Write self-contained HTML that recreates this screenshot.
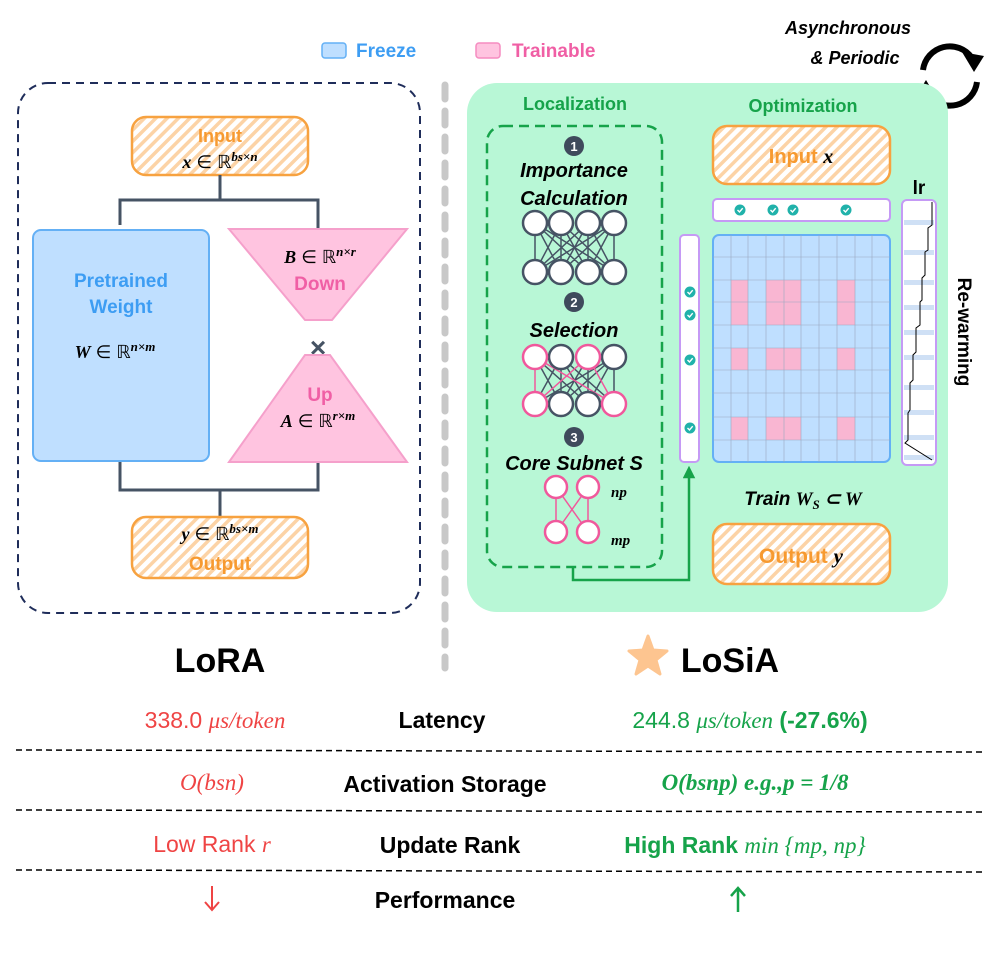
<!DOCTYPE html>
<html><head><meta charset="utf-8"><style>
body{margin:0;background:#fff}
svg{display:block}
text{font-family:"Liberation Sans",sans-serif}
.b{font-weight:bold}
.m{font-family:"Liberation Serif",serif;font-style:italic}
</style></head><body>
<svg width="996" height="955" viewBox="0 0 996 955" xmlns="http://www.w3.org/2000/svg">
<defs>
<pattern id="h" width="8" height="8" patternUnits="userSpaceOnUse" patternTransform="rotate(45)">
<rect width="8" height="8" fill="#fff"/><rect width="3.5" height="8" fill="#fcd3a6"/>
</pattern>
<marker id="ar" viewBox="0 0 10 10" refX="5" refY="5" markerWidth="5" markerHeight="5" orient="auto"><path d="M0,0L10,5L0,10z" fill="#16a34a"/></marker>
<g id="ck"><circle r="5.5" fill="#20b2aa"/><path d="M-2.5,0L-0.5,2L2.7,-1.8" fill="none" stroke="#fff" stroke-width="1.4"/></g>
</defs>

<!-- legend -->
<rect x="322" y="43" width="24" height="15" rx="3" fill="#bfdfff" stroke="#64b0f5" stroke-width="1.5"/>
<text x="356" y="57" class="b" font-size="19" fill="#3d9df3">Freeze</text>
<rect x="476" y="43" width="24" height="15" rx="3" fill="#ffc4e0" stroke="#f58cc0" stroke-width="1.5"/>
<text x="512" y="57" class="b" font-size="19" fill="#f05fa5">Trainable</text>

<!-- async -->
<text x="848" y="34" text-anchor="middle" class="b" font-style="italic" font-size="18">Asynchronous</text>
<text x="855" y="64" text-anchor="middle" class="b" font-style="italic" font-size="18">&amp; Periodic</text>
<path d="M923,70 A27,27 0 0 1 972,58" fill="none" stroke="#000" stroke-width="6"/>
<path d="M977,82 A27,27 0 0 1 928,94" fill="none" stroke="#000" stroke-width="6"/>
<path d="M962,52 L984,56 L974,72z" fill="#000"/>
<path d="M938,100 L916,96 L926,80z" fill="#000"/>

<!-- LoRA box -->
<rect x="18" y="83" width="402" height="530" rx="30" fill="#fff" stroke="#1f2d5a" stroke-width="2" stroke-dasharray="8,6"/>
<rect x="132" y="117" width="176" height="58" rx="14" fill="url(#h)" stroke="#f7a240" stroke-width="2.5"/>
<text x="220" y="142" text-anchor="middle" class="b" font-size="18" fill="#f79a30">Input</text>
<text x="220" y="168" text-anchor="middle" font-size="18"><tspan class="m b">x</tspan> ∈ ℝ<tspan class="m b" font-size="13" dy="-7">bs×n</tspan></text>
<path d="M220,175V200M120,225V200H318V229M120,461V490H318V462M220,490V517" fill="none" stroke="#465364" stroke-width="3"/>
<rect x="33" y="230" width="176" height="231" rx="8" fill="#bfdfff" stroke="#64b0f5" stroke-width="2"/>
<text x="121" y="287" text-anchor="middle" class="b" font-size="19" fill="#3d9df3">Pretrained</text>
<text x="121" y="313" text-anchor="middle" class="b" font-size="19" fill="#3d9df3">Weight</text>
<text x="115" y="358" text-anchor="middle" font-size="18"><tspan class="m b">W</tspan> ∈ ℝ<tspan class="m b" font-size="13" dy="-7">n×m</tspan></text>
<path d="M229,229H407L332,320H305Z" fill="#ffc4e0" stroke="#f5a0cb" stroke-width="2"/>
<text x="320" y="263" text-anchor="middle" font-size="18"><tspan class="m b">B</tspan> ∈ ℝ<tspan class="m b" font-size="13" dy="-7">n×r</tspan></text>
<text x="320" y="290" text-anchor="middle" class="b" font-size="19" fill="#f05fa5">Down</text>
<text x="318" y="357" text-anchor="middle" class="b" font-size="28" fill="#465364">×</text>
<path d="M305,355H330L407,462H229Z" fill="#ffc4e0" stroke="#f5a0cb" stroke-width="2"/>
<text x="320" y="401" text-anchor="middle" class="b" font-size="19" fill="#f05fa5">Up</text>
<text x="318" y="427" text-anchor="middle" font-size="18"><tspan class="m b">A</tspan> ∈ ℝ<tspan class="m b" font-size="13" dy="-7">r×m</tspan></text>
<rect x="132" y="517" width="176" height="61" rx="14" fill="url(#h)" stroke="#f7a240" stroke-width="2.5"/>
<text x="220" y="540" text-anchor="middle" font-size="18"><tspan class="m b">y</tspan> ∈ ℝ<tspan class="m b" font-size="13" dy="-7">bs×m</tspan></text>
<text x="220" y="570" text-anchor="middle" class="b" font-size="19" fill="#f79a30">Output</text>

<!-- divider -->
<line x1="445" y1="85" x2="445" y2="668" stroke="#c8c8c8" stroke-width="7" stroke-dasharray="14,12" stroke-linecap="round"/>

<!-- LoSiA panel -->
<rect x="467" y="83" width="481" height="529" rx="30" fill="#b8f7d6"/>
<text x="575" y="110" text-anchor="middle" class="b" font-size="18" fill="#16a34a">Localization</text>
<text x="803" y="112" text-anchor="middle" class="b" font-size="18" fill="#16a34a">Optimization</text>
<rect x="487" y="126" width="175" height="441" rx="16" fill="none" stroke="#16a34a" stroke-width="2.5" stroke-dasharray="10,6"/>
<g fill="#3f4a5c"><circle cx="574" cy="146" r="10"/><circle cx="574" cy="302" r="10"/><circle cx="574" cy="437" r="10"/></g>
<g font-size="13" class="b" text-anchor="middle"><text x="574" y="151" fill="#fff" class="b">1</text><text x="574" y="307" fill="#fff" class="b">2</text><text x="574" y="442" fill="#fff" class="b">3</text></g>
<g class="b" font-style="italic" font-size="20" text-anchor="middle">
<text x="574" y="177">Importance</text><text x="574" y="205">Calculation</text>
<text x="574" y="337">Selection</text><text x="574" y="470">Core Subnet S</text></g>
<g stroke="#465364" stroke-width="1.5">
<path d="M535,223L535,272M535,223L561,272M535,223L588,272M535,223L614,272M561,223L535,272M561,223L561,272M561,223L588,272M561,223L614,272M588,223L535,272M588,223L561,272M588,223L588,272M588,223L614,272M614,223L535,272M614,223L561,272M614,223L588,272M614,223L614,272"/>
<path d="M561,357L535,404M561,357L561,404M561,357L588,404M561,357L614,404M614,357L535,404M614,357L561,404M614,357L588,404M614,357L614,404M535,357L561,404M535,357L588,404M588,357L561,404M588,357L588,404"/>
</g>
<path d="M535,357L535,404M535,357L614,404M588,357L535,404M588,357L614,404" stroke="#f0589c" stroke-width="1.5"/>
<g fill="#fff" stroke="#465364" stroke-width="2.5">
<circle cx="535" cy="223" r="12"/><circle cx="561" cy="223" r="12"/><circle cx="588" cy="223" r="12"/><circle cx="614" cy="223" r="12"/>
<circle cx="535" cy="272" r="12"/><circle cx="561" cy="272" r="12"/><circle cx="588" cy="272" r="12"/><circle cx="614" cy="272" r="12"/>
<circle cx="561" cy="357" r="12"/><circle cx="614" cy="357" r="12"/><circle cx="561" cy="404" r="12"/><circle cx="588" cy="404" r="12"/>
</g>
<path d="M556,487V532M588,487V532M556,487L588,532M588,487L556,532" stroke="#f0589c" stroke-width="1.5"/>
<g fill="#fff" stroke="#f0589c" stroke-width="2.5">
<circle cx="535" cy="357" r="12"/><circle cx="588" cy="357" r="12"/><circle cx="535" cy="404" r="12"/><circle cx="614" cy="404" r="12"/>
<circle cx="556" cy="487" r="11"/><circle cx="588" cy="487" r="11"/><circle cx="556" cy="532" r="11"/><circle cx="588" cy="532" r="11"/>
</g>
<text x="611" y="497" class="m b" font-size="15">np</text>
<text x="611" y="545" class="m b" font-size="15">mp</text>
<path d="M573,567V580H689V472" fill="none" stroke="#16a34a" stroke-width="2.5" marker-end="url(#ar)"/>

<!-- strips -->
<rect x="680" y="235" width="19" height="227" rx="4" fill="#fff" stroke="#c59af5" stroke-width="2"/>
<rect x="713" y="199" width="177" height="22" rx="4" fill="#fff" stroke="#c59af5" stroke-width="2"/>
<use href="#ck" x="690" y="292"/><use href="#ck" x="690" y="315"/><use href="#ck" x="690" y="360"/><use href="#ck" x="690" y="428"/>
<use href="#ck" x="740" y="210"/><use href="#ck" x="773" y="210"/><use href="#ck" x="793" y="210"/><use href="#ck" x="846" y="210"/>

<rect x="713" y="126" width="177" height="58" rx="14" fill="url(#h)" stroke="#f7a240" stroke-width="2.5"/>
<text x="801" y="163" text-anchor="middle" font-size="20"><tspan class="b" fill="#f79a30">Input</tspan> <tspan class="m b">x</tspan></text>

<!-- grid -->
<rect x="713" y="235" width="177" height="227" rx="6" fill="#bfdfff" stroke="#64b0f5" stroke-width="2"/>
<g fill="#f9b6d2">
<rect x="731" y="280" width="17" height="45"/><rect x="766" y="280" width="35" height="45"/><rect x="837" y="280" width="18" height="45"/>
<rect x="731" y="348" width="17" height="22"/><rect x="766" y="348" width="35" height="22"/><rect x="837" y="348" width="18" height="22"/>
<rect x="731" y="417" width="17" height="23"/><rect x="766" y="417" width="35" height="23"/><rect x="837" y="417" width="18" height="23"/>
</g>
<g stroke="#9aa8c0" stroke-width="0.6">
<path d="M731,235V462M748,235V462M766,235V462M784,235V462M801,235V462M819,235V462M837,235V462M855,235V462M872,235V462"/>
<path d="M713,257H890M713,280H890M713,302H890M713,325H890M713,348H890M713,370H890M713,393H890M713,417H890M713,440H890"/>
</g>

<!-- lr -->
<text x="919" y="194" text-anchor="middle" class="b" font-size="19">lr</text>
<rect x="902" y="200" width="34" height="265" rx="5" fill="#fff" stroke="#c59af5" stroke-width="2"/>
<g fill="#cfe0f5"><rect x="904" y="220" width="30" height="5"/><rect x="904" y="250" width="30" height="5"/><rect x="904" y="280" width="30" height="5"/><rect x="904" y="305" width="30" height="5"/><rect x="904" y="330" width="30" height="5"/><rect x="904" y="355" width="30" height="5"/><rect x="904" y="385" width="30" height="5"/><rect x="904" y="410" width="30" height="5"/><rect x="904" y="435" width="30" height="5"/><rect x="904" y="455" width="30" height="5"/></g>
<path d="M932,202V225L928,228V250L925,252V275L922,278V300L920,302V325L916,328V352L913,355V380L910,383V410L908,413V440L905,443L932,460" fill="none" stroke="#000" stroke-width="1"/>
<text transform="translate(958,332) rotate(90)" text-anchor="middle" class="b" font-size="19">Re-warming</text>

<text x="803" y="505" text-anchor="middle" class="b" font-style="italic" font-size="19">Train <tspan class="m">W<tspan font-size="13" dy="4">S</tspan><tspan dy="-4"> ⊂ W</tspan></tspan></text>
<rect x="713" y="524" width="177" height="60" rx="14" fill="url(#h)" stroke="#f7a240" stroke-width="2.5"/>
<text x="801" y="563" text-anchor="middle" font-size="21"><tspan class="b" fill="#f79a30">Output</tspan> <tspan class="m b">y</tspan></text>

<!-- titles -->
<text x="220" y="672" text-anchor="middle" class="b" font-size="34">LoRA</text>
<path d="M648,636L653,650L667,651L656,660L660,674L648,666L636,674L640,660L629,651L643,650Z" fill="#fdc590" stroke="#fdc590" stroke-width="3" stroke-linejoin="round"/>
<text x="730" y="672" text-anchor="middle" class="b" font-size="34">LoSiA</text>

<!-- table -->
<g font-size="23">
<text x="215" y="728" text-anchor="middle" fill="#ef4444">338.0 <tspan class="m">μs/token</tspan></text>
<text x="442" y="728" text-anchor="middle" class="b">Latency</text>
<text x="750" y="728" text-anchor="middle" fill="#16a34a">244.8 <tspan class="m">μs/token</tspan> <tspan class="b">(-27.6%)</tspan></text>
<text x="212" y="790" text-anchor="middle" fill="#ef4444" class="m">O(bsn)</text>
<text x="445" y="792" text-anchor="middle" class="b">Activation Storage</text>
<text x="755" y="790" text-anchor="middle" fill="#16a34a" class="m b">O(bsnp) e.g.,p = 1/8</text>
<text x="212" y="852" text-anchor="middle" fill="#ef4444">Low Rank <tspan class="m">r</tspan></text>
<text x="450" y="853" text-anchor="middle" class="b">Update Rank</text>
<text x="745" y="853" text-anchor="middle" fill="#16a34a"><tspan class="b">High Rank</tspan> <tspan class="m">min {mp, np}</tspan></text>
<text x="445" y="908" text-anchor="middle" class="b">Performance</text>
</g>
<path d="M212,886V910M205,902L212,910L219,902" fill="none" stroke="#ef4444" stroke-width="2"/>
<path d="M738,912V888M731,896L738,888L745,896" fill="none" stroke="#16a34a" stroke-width="2.5"/>
<g stroke="#000" stroke-width="1.5" stroke-dasharray="6,4">
<line x1="16" y1="750" x2="985" y2="752"/><line x1="16" y1="810" x2="985" y2="812"/><line x1="16" y1="870" x2="985" y2="872"/></g>
</svg>
</body></html>
